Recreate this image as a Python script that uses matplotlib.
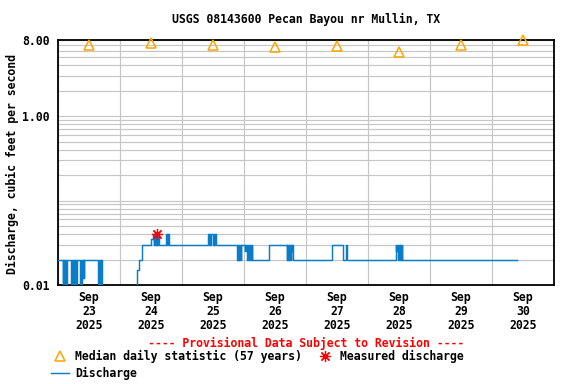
import matplotlib
matplotlib.use("Agg")
import matplotlib.pyplot as plt

# ---------------- data ----------------
title = "USGS 08143600 Pecan Bayou nr Mullin, TX"
day_labels = ["Sep\n23\n2025", "Sep\n24\n2025", "Sep\n25\n2025", "Sep\n26\n2025",
              "Sep\n27\n2025", "Sep\n28\n2025", "Sep\n29\n2025", "Sep\n30\n2025"]
# median daily statistic (at noon of each day), cfs
median_values = [7.05, 7.3, 7.05, 6.6, 6.8, 5.7, 6.9, 8.05]
# measured discharge (hours since Sep 23 00:00, cfs)
measured_hours = [38.4]
measured_values = [0.04]
# discharge change points (hours since Sep 23 00:00, cfs); 0.009 = below 0.01
q_hours = [0.0,
           1.75, 2.0, 2.25, 2.5, 2.75, 3.0, 3.25, 3.5,
           5.0, 5.25, 5.75, 6.0,
           6.5, 6.75, 7.0, 7.25,
           8.5, 8.75, 9.0, 9.25, 9.5, 9.75, 10.0, 10.25,
           15.5, 15.75, 16.0, 16.25, 16.5, 16.75, 17.0,
           30.75, 31.25, 31.5, 32.5,
           36.0, 36.75, 37.0, 37.25, 37.5, 37.75, 38.0, 38.25, 38.5, 38.75, 39.0,
           41.75, 42.0, 42.25, 42.5, 42.75, 43.0,
           58.25, 58.5, 58.75, 59.0, 59.25, 60.0, 60.25, 60.5, 60.75, 61.0,
           69.25, 69.5, 69.75, 70.0, 70.25, 70.5, 70.75, 71.0,
           72.25, 72.5, 72.75, 73.0, 73.25, 73.5, 73.75, 74.0, 74.25, 74.5, 74.75, 75.0, 75.25,
           81.5,
           88.5, 88.75, 89.0, 89.25, 89.5, 89.75, 90.0, 90.25, 90.5, 90.75, 91.0,
           106.0,
           110.25, 110.5, 111.5, 111.75,
           130.75, 131.0, 131.25, 131.5, 131.75, 132.0, 132.25, 132.5, 132.75, 133.0, 133.25,
           177.6]
q_values = [0.02,
            0.009, 0.02, 0.009, 0.02, 0.009, 0.02, 0.009, 0.02,
            0.009, 0.02, 0.009, 0.02,
            0.009, 0.02, 0.009, 0.02,
            0.009, 0.02, 0.009, 0.02, 0.012, 0.02, 0.012, 0.02,
            0.009, 0.02, 0.009, 0.02, 0.009, 0.02, 0.009,
            0.015, 0.0175, 0.02, 0.03,
            0.035, 0.04, 0.03, 0.04, 0.03, 0.04, 0.03, 0.04, 0.03, 0.04, 0.03,
            0.04, 0.03, 0.04, 0.03, 0.04, 0.03,
            0.04, 0.03, 0.04, 0.03, 0.04, 0.03, 0.04, 0.03, 0.04, 0.03,
            0.02, 0.03, 0.02, 0.03, 0.02, 0.03, 0.02, 0.03,
            0.025, 0.03, 0.025, 0.03, 0.02, 0.03, 0.02, 0.025, 0.02, 0.03, 0.02, 0.03, 0.02,
            0.03,
            0.02, 0.03, 0.02, 0.03, 0.02, 0.03, 0.02, 0.03, 0.025, 0.03, 0.02,
            0.03,
            0.025, 0.02, 0.03, 0.02,
            0.03, 0.025, 0.03, 0.025, 0.02, 0.03, 0.02, 0.03, 0.02, 0.03, 0.02,
            0.02]

# ---------------- style ----------------
FONT = "DejaVu Sans Mono"
FS = 8.3
plt.rcParams["font.family"] = FONT
plt.rcParams["font.weight"] = "bold"

fig = plt.figure(figsize=(5.76, 3.84), dpi=100)
ax = fig.add_axes([58/576, 1-285/384, (554-58)/576, (285-40)/384])

n_days = len(day_labels)
noon = [12 + 24*i for i in range(n_days)]
midnights = [24*i for i in range(n_days + 1)]

line_q, = ax.step(q_hours, q_values, where="post", color="#0a7cc8", lw=1.05,
                  zorder=3, label="Discharge")
line_m, = ax.plot(noon, median_values, linestyle="none", marker="^", ms=7,
                  mfc="none", mec="#ffa500", mew=1.1, zorder=4, clip_on=False,
                  label="Median daily statistic (57 years)")
line_meas, = ax.plot(measured_hours, measured_values, linestyle="none",
                     marker=(8, 2, 0), ms=8, mec="red", mfc="red", mew=0.9,
                     zorder=5, label="Measured discharge")

ax.set_yscale("log")
ax.set_ylim(0.01, 8.0)
ax.set_xlim(0, 24*n_days)

major_y = [0.01, 1.0, 8.0]
ax.set_yticks(major_y)
ax.set_yticklabels(["%.2f" % v for v in major_y])
minor_y = [k*10.0**e for e in (-2, -1, 0) for k in range(2, 10)] + [0.1]
minor_y = [v for v in minor_y if 0.01 < v < 8.0]
ax.set_yticks(minor_y, minor=True)
ax.yaxis.set_minor_formatter(matplotlib.ticker.NullFormatter())

ax.set_xticks(noon)
ax.set_xticklabels(day_labels, linespacing=1.1)
ax.set_xticks(midnights, minor=True)

ax.tick_params(axis="both", which="both", length=0)
ax.tick_params(axis="y", which="major", pad=6, labelsize=FS)
ax.tick_params(axis="x", which="major", pad=4.5, labelsize=FS)

ax.grid(True, axis="y", which="both", color="#c6c6c6", lw=0.85, zorder=0)
ax.grid(True, axis="x", which="minor", color="#c6c6c6", lw=0.85, zorder=0)
ax.grid(False, axis="x", which="major")
ax.set_axisbelow(True)

for s in ax.spines.values():
    s.set_linewidth(1.3)
    s.set_color("black")

fig.text(12/576, 1-164/384, "Discharge, cubic feet per second", rotation=90,
         ha="center", va="center", fontsize=FS, fontweight="bold")

fig.text(306/576, 1-19/384, title, ha="center", va="center", fontsize=FS,
         fontweight="bold")
fig.text(306/576, 1-343/384, "---- Provisional Data Subject to Revision ----",
         ha="center", va="center", fontsize=FS, fontweight="bold", color="red")

leg = fig.legend(handles=[line_m, line_q, line_meas], ncol=2, frameon=False,
                 loc="upper left", bbox_to_anchor=(51/576, 1-349.5/384),
                 borderpad=0, borderaxespad=0, handlelength=1.6,
                 handletextpad=0.5, columnspacing=1.15, labelspacing=0.38,
                 prop={"family": FONT, "weight": "bold", "size": FS})

fig.savefig("out.png", dpi=100)
